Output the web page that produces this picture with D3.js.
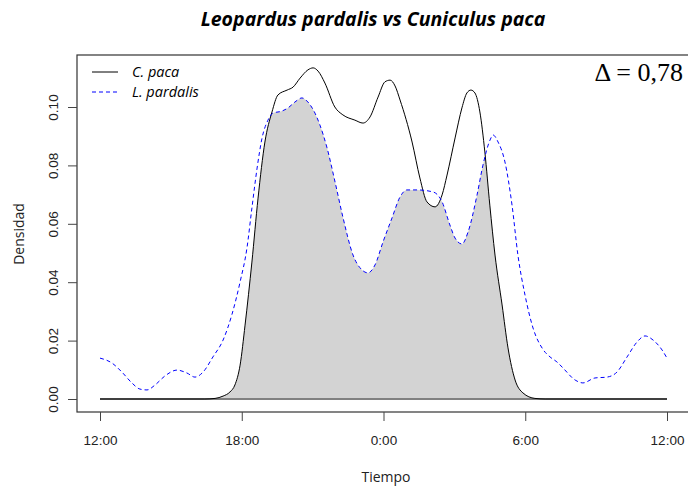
<!DOCTYPE html>
<html>
<head>
<meta charset="utf-8">
<script src="https://cdn.jsdelivr.net/npm/d3@7"></script>
<style>
  html, body { margin: 0; padding: 0; background: #fff; }
  svg { display: block; }
</style>
</head>
<body>
<svg id="chart" width="688" height="487"></svg>
<script>
// ---- Data (hours since 12:00 of day 1 expressed on a 12..36 clock scale) ----
const pacaHours = [12, 16.44, 16.87, 17.21, 17.50, 17.71, 17.93, 18.14, 18.43, 18.69, 18.98, 19.28, 19.53, 19.92, 20.17, 20.47, 20.80, 21.02, 21.23, 21.52, 21.94, 22.28, 22.79, 23.13, 23.43, 23.77, 24.06, 24.28, 24.49, 24.70, 25.21, 25.54, 25.84, 26.18, 26.48, 26.69, 27.03, 27.32, 27.53, 27.70, 27.87, 28.08, 28.29, 28.50, 28.72, 29.02, 29.27, 29.57, 29.90, 30.41, 30.84, 36];
const pacaDensity = [0, 0, 0.0002, 0.0010, 0.0024, 0.0048, 0.0116, 0.0253, 0.0469, 0.0688, 0.0880, 0.0983, 0.1041, 0.1058, 0.1068, 0.1099, 0.1127, 0.1134, 0.1123, 0.1082, 0.1000, 0.0973, 0.0955, 0.0945, 0.0966, 0.1034, 0.1086, 0.1092, 0.1072, 0.1024, 0.0880, 0.0757, 0.0675, 0.0658, 0.0699, 0.0767, 0.0894, 0.0997, 0.1048, 0.1058, 0.1048, 0.0983, 0.0846, 0.0664, 0.0493, 0.0322, 0.0175, 0.0065, 0.0021, 0.0002, 0, 0];

const pardalisHours = [12.00, 12.51, 12.93, 13.35, 13.69, 13.99, 14.33, 14.75, 15.26, 15.68, 16.02, 16.36, 16.78, 17.21, 17.59, 17.93, 18.22, 18.43, 18.65, 18.86, 19.11, 19.32, 19.70, 19.96, 20.25, 20.55, 20.80, 21.10, 21.31, 21.61, 21.95, 22.29, 22.71, 23.09, 23.34, 23.64, 23.98, 24.36, 24.70, 24.99, 25.42, 26.10, 26.48, 26.81, 27.03, 27.32, 27.58, 27.96, 28.21, 28.51, 28.64, 28.85, 29.14, 29.44, 29.69, 29.99, 30.33, 30.75, 31.05, 31.34, 31.60, 32.11, 32.44, 32.95, 33.46, 33.88, 34.31, 34.73, 35.07, 35.41, 35.79, 36.00];
const pardalisDensity = [0.0140, 0.0123, 0.0092, 0.0055, 0.0034, 0.0031, 0.0048, 0.0079, 0.0099, 0.0089, 0.0075, 0.0092, 0.0144, 0.0202, 0.0291, 0.0401, 0.0517, 0.0654, 0.0791, 0.0894, 0.0955, 0.0979, 0.0986, 0.0997, 0.1017, 0.1031, 0.1017, 0.0979, 0.0938, 0.0860, 0.0743, 0.0620, 0.0493, 0.0442, 0.0432, 0.0459, 0.0538, 0.0620, 0.0692, 0.0716, 0.0716, 0.0709, 0.0675, 0.0596, 0.0551, 0.0531, 0.0572, 0.0699, 0.0801, 0.0887, 0.0904, 0.0880, 0.0812, 0.0664, 0.0493, 0.0356, 0.0243, 0.0170, 0.0144, 0.0127, 0.0106, 0.0065, 0.0055, 0.0072, 0.0075, 0.0092, 0.0144, 0.0195, 0.0216, 0.0202, 0.0168, 0.0140];

const xTickHours = [12, 18, 24, 30, 36];
const xTickLabels = ["12:00", "18:00", "0:00", "6:00", "12:00"];
const yTickValues = [0, 0.02, 0.04, 0.06, 0.08, 0.10];
const seriesNames = ["C. paca", "L. pardalis"];
const titleText = "Leopardus pardalis vs Cuniculus paca";
const overlapText = "\u0394 = 0,78";

// ---- Drawing ----
const svg = d3.select("#chart");
const x = d3.scaleLinear().domain([12, 36]).range([100, 667]);
const y = d3.scaleLinear().domain([0, 0.10]).range([399, 107]);

const paca = pacaHours.map((h, i) => ({h, d: pacaDensity[i]}));
const pard = pardalisHours.map((h, i) => ({h, d: pardalisDensity[i]}));

const curve = d3.curveMonotoneX;
const line = d3.line().x(p => x(p.h)).y(p => y(p.d)).curve(curve);
const area = d3.area().x(p => x(p.h)).y0(y(0)).y1(p => y(p.d)).curve(curve);

// overlap (min of both) via clipping
svg.append("clipPath").attr("id", "clipPard")
  .append("path").attr("d", area(pard));
svg.append("path").attr("d", area(paca))
  .attr("fill", "#d3d3d3").attr("clip-path", "url(#clipPard)");

// baseline
svg.append("line")
  .attr("x1", x(12)).attr("x2", x(36)).attr("y1", y(0)).attr("y2", y(0))
  .attr("stroke", "#808080").attr("stroke-width", 2);

// curves
svg.append("path").attr("d", line(paca))
  .attr("fill", "none").attr("stroke", "#000").attr("stroke-width", 1);
svg.append("path").attr("d", line(pard))
  .attr("fill", "none").attr("stroke", "#0000ff").attr("stroke-width", 1)
  .attr("stroke-dasharray", "4,3");

// box
svg.append("rect").attr("x", 77).attr("y", 55).attr("width", 620).attr("height", 357)
  .attr("fill", "none").attr("stroke", "#333").attr("stroke-width", 1.2);

// x axis
const xAxis = d3.axisBottom(x).tickValues(xTickHours)
  .tickFormat((d, i) => xTickLabels[i]).tickSize(9).tickSizeOuter(0).tickPadding(14);
const gx = svg.append("g").attr("transform", "translate(0,412)").call(xAxis);
gx.select(".domain").remove();
gx.selectAll(".tick line").attr("stroke", "#444");
gx.selectAll(".tick text").attr("font-family", "'Liberation Sans', Arial, sans-serif")
  .attr("font-size", 13.5).attr("fill", "#222");

// y axis
const yAxis = d3.axisLeft(y).tickValues(yTickValues)
  .tickFormat(d3.format(".2f")).tickSize(9).tickSizeOuter(0).tickPadding(4);
const gy = svg.append("g").attr("transform", "translate(77,0)").call(yAxis);
gy.select(".domain").remove();
gy.selectAll(".tick line").attr("stroke", "#444");
gy.selectAll(".tick text")
  .attr("font-family", "'Liberation Sans', Arial, sans-serif")
  .attr("font-size", 13.5).attr("fill", "#222")
  .attr("text-anchor", "middle")
  .attr("dy", null).attr("x", null)
  .attr("transform", "translate(-23,0) rotate(-90)")
  .attr("dominant-baseline", "middle");

// axis titles
svg.append("text").attr("x", 386).attr("y", 482).attr("text-anchor", "middle")
  .attr("font-family", "'Open Sans', sans-serif").attr("font-size", 14).attr("fill", "#222")
  .text("Tiempo");
svg.append("text").attr("transform", "translate(24,234) rotate(-90)").attr("text-anchor", "middle")
  .attr("font-family", "'Open Sans', sans-serif").attr("font-size", 14).attr("fill", "#222")
  .text("Densidad");

// title
svg.append("text").attr("x", 373).attr("y", 26).attr("text-anchor", "middle")
  .attr("font-family", "'Open Sans', sans-serif").attr("font-size", 19.5)
  .attr("font-weight", "bold").attr("font-style", "italic").attr("fill", "#000")
  .text(titleText);

// legend
const legend = svg.append("g");
[0, 1].forEach(i => {
  const ly = 72 + i * 20;
  legend.append("line").attr("x1", 92).attr("x2", 118).attr("y1", ly).attr("y2", ly)
    .attr("stroke", i === 0 ? "#000" : "#0000ff").attr("stroke-width", 1)
    .attr("stroke-dasharray", i === 0 ? null : "4,3");
  legend.append("text").attr("x", 132).attr("y", ly + 5)
    .attr("font-family", "'Open Sans', sans-serif").attr("font-size", 14.5)
    .attr("font-style", "italic").attr("fill", "#000")
    .text(seriesNames[i]);
});

// overlap coefficient
svg.append("text").attr("x", 683).attr("y", 81).attr("text-anchor", "end")
  .attr("font-family", "'Liberation Serif', 'Times New Roman', serif").attr("font-size", 26)
  .attr("fill", "#000").text(overlapText);
</script>
</body>
</html>
